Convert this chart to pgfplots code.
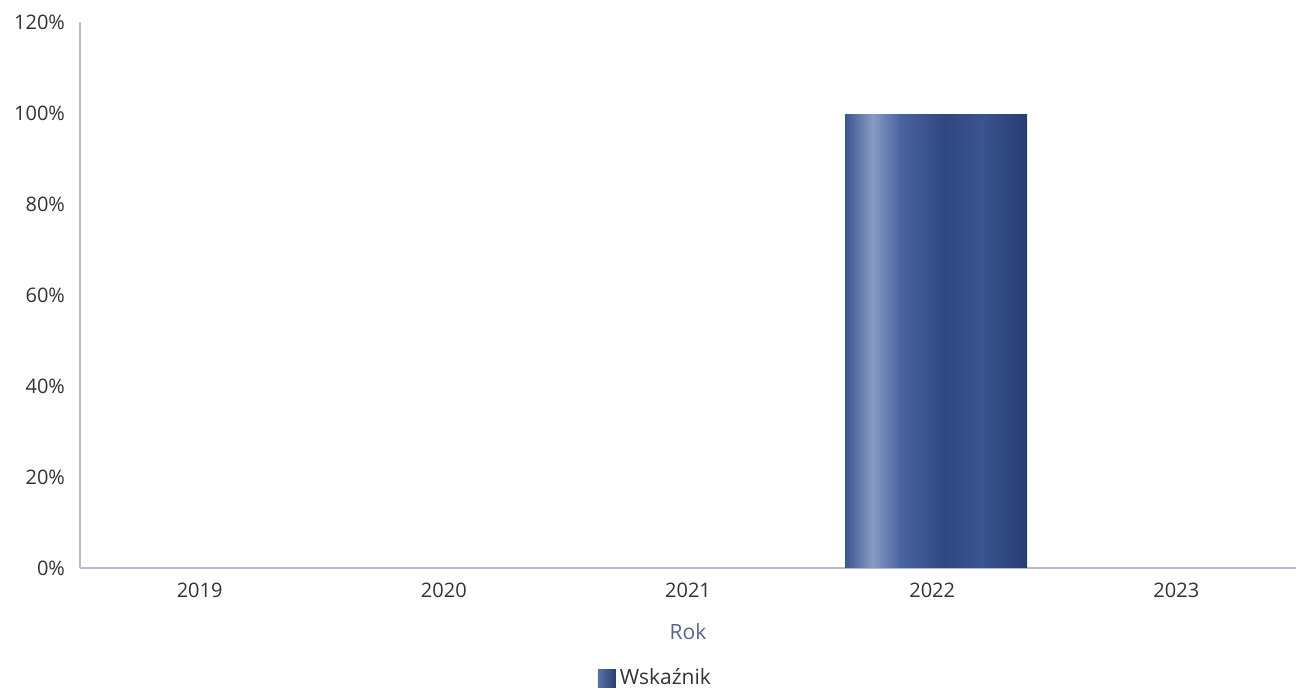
\documentclass[border=0pt]{standalone}
\usepackage{fontspec}
\setmainfont{Open Sans}
\usepackage{pgfplots}
\pgfplotsset{compat=1.18}
\definecolor{axiscol}{HTML}{B4BCCE}
\definecolor{tickcol}{HTML}{333333}
\definecolor{labcol}{HTML}{56658F}
\definecolor{barA}{HTML}{3B5590}
\definecolor{barB}{HTML}{8A9CC4}
\definecolor{barC}{HTML}{4A64A0}
\definecolor{barD}{HTML}{2F4880}
\definecolor{barE}{HTML}{3A5490}
\definecolor{barF}{HTML}{263D70}
\pgfdeclarehorizontalshading{barshade}{100bp}{color(0bp)=(barA); color(25bp)=(barA); color(32.5bp)=(barB); color(40bp)=(barC); color(52.5bp)=(barD); color(62.5bp)=(barE); color(75bp)=(barF); color(100bp)=(barF)}
\begin{document}
\begin{tikzpicture}
\begin{axis}[
  scale only axis,
  width=608pt, height=273pt,
  xmin=-0.49, xmax=4.49,
  ymin=0, ymax=120,
  axis x line*=bottom, axis y line*=left,
  axis line style={draw=axiscol, line width=0.8pt},
  xtick={0,1,2,3,4},
  xticklabels={2019,2020,2021,2022,2023},
  ytick={0,20,40,60,80,100,120},
  yticklabels={0\%,20\%,40\%,60\%,80\%,100\%,120\%},
  major tick length=0pt,
  tick label style={font=\fontsize{10}{12}\selectfont, text=tickcol},
  xticklabel style={yshift=-4pt},
  yticklabel style={xshift=-4pt},
  xlabel={Rok},
  xlabel style={font=\fontsize{10.5}{12}\selectfont, text=labcol, at={(axis description cs:0.5,0)}, anchor=center, yshift=-32pt},
  legend style={draw=none, fill=none, at={(0.474,-0.2015)}, anchor=center, font=\fontsize{10.5}{12}\selectfont, text=tickcol},
  ybar, bar width=91pt, bar shift=2pt,
  legend image code/.code={\fill[left color=barB!50!barD, right color=barF] (0pt,-4.5pt) rectangle (9pt,4.5pt);},
]
\addplot[draw=none, shading=barshade] coordinates {(3,99.6)};
\addlegendentry{Wskaźnik}
\end{axis}
\pgfresetboundingbox
\path[use as bounding box] (-40pt,-60pt) rectangle (608pt,284pt);
\end{tikzpicture}
\end{document}
